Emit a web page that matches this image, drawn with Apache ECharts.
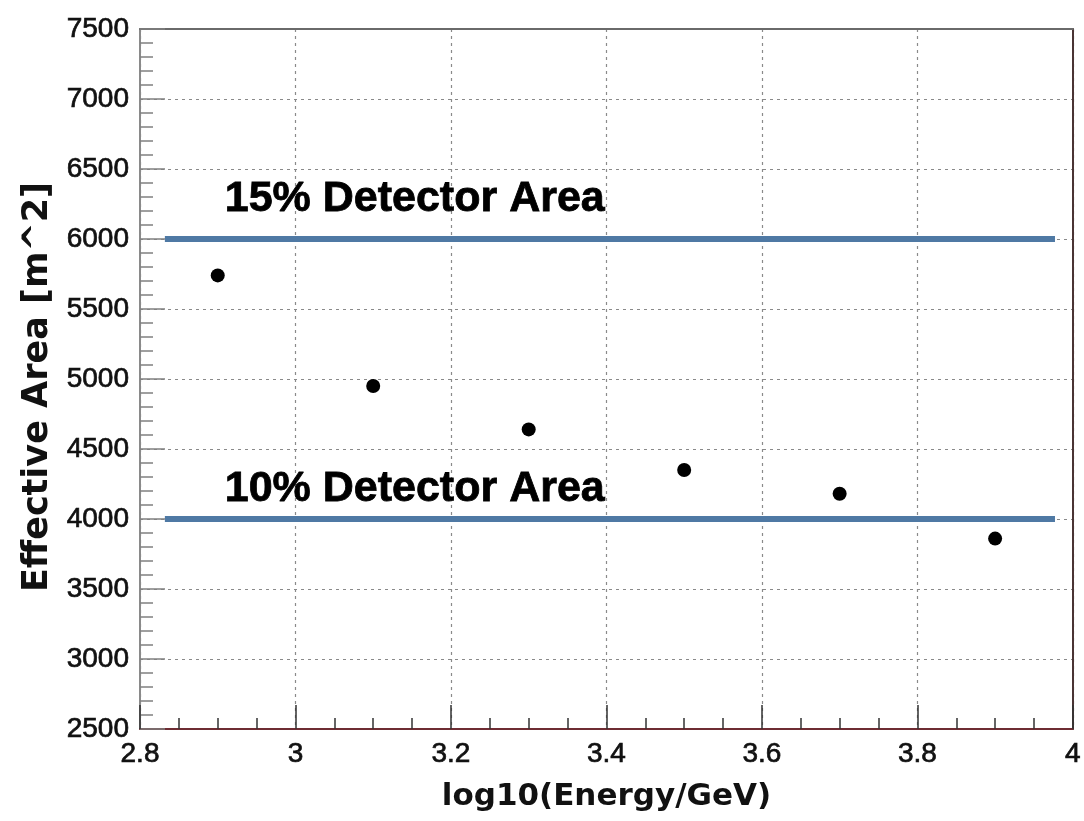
<!DOCTYPE html>
<html>
<head>
<meta charset="utf-8">
<script src="https://cdn.jsdelivr.net/npm/echarts@6/dist/echarts.min.js"></script>
<style>
  html, body { margin: 0; padding: 0; background: #ffffff; }
  #chart { width: 1084px; height: 821px; }
</style>
</head>
<body>
<div id="chart"></div>
<script>
// Effective area versus energy
const energyLog = [2.9, 3.1, 3.3, 3.5, 3.7, 3.9];
const effectiveArea = [5740, 4950, 4640, 4350, 4180, 3860];

// Reference levels: fraction of the detector area
const levelNames = ['15% Detector Area', '10% Detector Area'];
const levelValues = [6000, 4000];
const levelSpan = [2.832, 3.977];

// Where each level's caption sits (data coordinates of the text's left-middle)
const captionX = [2.909, 2.909];
const captionY = [6285, 4215];

const xTicks = [2.8, 3, 3.2, 3.4, 3.6, 3.8, 4];
const yTicks = [2500, 3000, 3500, 4000, 4500, 5000, 5500, 6000, 6500, 7000, 7500];

const tickFont = {
  fontFamily: 'Liberation Sans, Arial, sans-serif', fontSize: 28, color: '#111111',
  textBorderColor: '#111111', textBorderWidth: 0.7
};
const gridDots = { color: '#8a8a8a', width: 1.2, type: [3, 4] };

const chart = echarts.init(document.getElementById('chart'), null, { renderer: 'canvas' });

const levelSeries = levelValues.map((v, i) => ({
  type: 'line',
  name: levelNames[i],
  data: levelSpan.map(x => [x, v]),
  symbol: 'none',
  lineStyle: { color: '#4f79a4', width: 6 },
  silent: true,
  z: 3
}));

const captionSeries = {
  type: 'scatter',
  data: levelNames.map((n, i) => ({ value: [captionX[i], captionY[i]], name: n })),
  symbolSize: 0,
  silent: true,
  itemStyle: { opacity: 1 },
  label: {
    show: true,
    position: 'right',
    distance: 0,
    formatter: p => p.name,
    fontFamily: 'Liberation Sans, Arial, sans-serif',
    fontWeight: 'bold',
    fontSize: 43,
    color: '#000000',
    textBorderColor: '#000000',
    textBorderWidth: 0.8,
    opacity: 1
  },
  z: 4
};

chart.setOption({
  animation: false,
  backgroundColor: '#ffffff',
  grid: { left: 140, top: 29, right: 10, bottom: 92, containLabel: false },
  xAxis: [
    {
      type: 'value',
      position: 'bottom',
      min: xTicks[0],
      max: xTicks[xTicks.length - 1],
      interval: 0.2,
      axisLine: { show: true, onZero: false, lineStyle: { color: '#6e2c33', width: 2 } },
      axisTick: { show: true, inside: true, length: 24, lineStyle: { color: '#333333', width: 1.5 } },
      minorTick: { show: true, splitNumber: 4, length: 11, lineStyle: { color: '#333333', width: 1.5 } },
      axisLabel: Object.assign({ margin: 11, formatter: v => String(+v.toFixed(1)) }, tickFont),
      splitLine: { show: true, lineStyle: gridDots },
      name: 'log10(Energy/GeV)',
      nameLocation: 'middle',
      nameGap: 52,
      nameTextStyle: { fontFamily: 'DejaVu Sans, sans-serif', fontWeight: 'bold', fontSize: 31, color: '#111111' }
    },
    {
      type: 'value',
      position: 'top',
      min: xTicks[0],
      max: xTicks[xTicks.length - 1],
      interval: 0.2,
      axisLine: { show: true, onZero: false, lineStyle: { color: '#6a6a6a', width: 2 } },
      axisTick: { show: false },
      axisLabel: { show: false },
      splitLine: { show: false }
    }
  ],
  yAxis: [
    {
      type: 'value',
      position: 'left',
      min: yTicks[0],
      max: yTicks[yTicks.length - 1],
      interval: 500,
      axisLine: { show: true, onZero: false, lineStyle: { color: '#8a8a8a', width: 2 } },
      axisTick: { show: true, inside: true, length: 25, lineStyle: { color: '#808080', width: 1.5 } },
      minorTick: { show: true, splitNumber: 5, length: 13, lineStyle: { color: '#808080', width: 1.5 } },
      axisLabel: Object.assign({ margin: 11, formatter: v => String(v) }, tickFont),
      splitLine: { show: true, lineStyle: gridDots },
      name: 'Effective Area [m^2]',
      nameLocation: 'middle',
      nameGap: 84,
      nameTextStyle: {
        fontFamily: 'DejaVu Sans, sans-serif', fontWeight: 'bold', fontSize: 35, color: '#111111',
        padding: [0, 16, 0, 0]
      }
    },
    {
      type: 'value',
      position: 'right',
      min: yTicks[0],
      max: yTicks[yTicks.length - 1],
      interval: 500,
      axisLine: { show: true, onZero: false, lineStyle: { color: '#4a3434', width: 2 } },
      axisTick: { show: false },
      axisLabel: { show: false },
      splitLine: { show: false }
    }
  ],
  series: [
    ...levelSeries,
    captionSeries,
    {
      type: 'scatter',
      name: 'Effective Area',
      data: energyLog.map((x, i) => [x, effectiveArea[i]]),
      symbol: 'circle',
      symbolSize: 14,
      itemStyle: { color: '#000000', opacity: 1 },
      z: 5
    }
  ]
});
</script>
</body>
</html>
